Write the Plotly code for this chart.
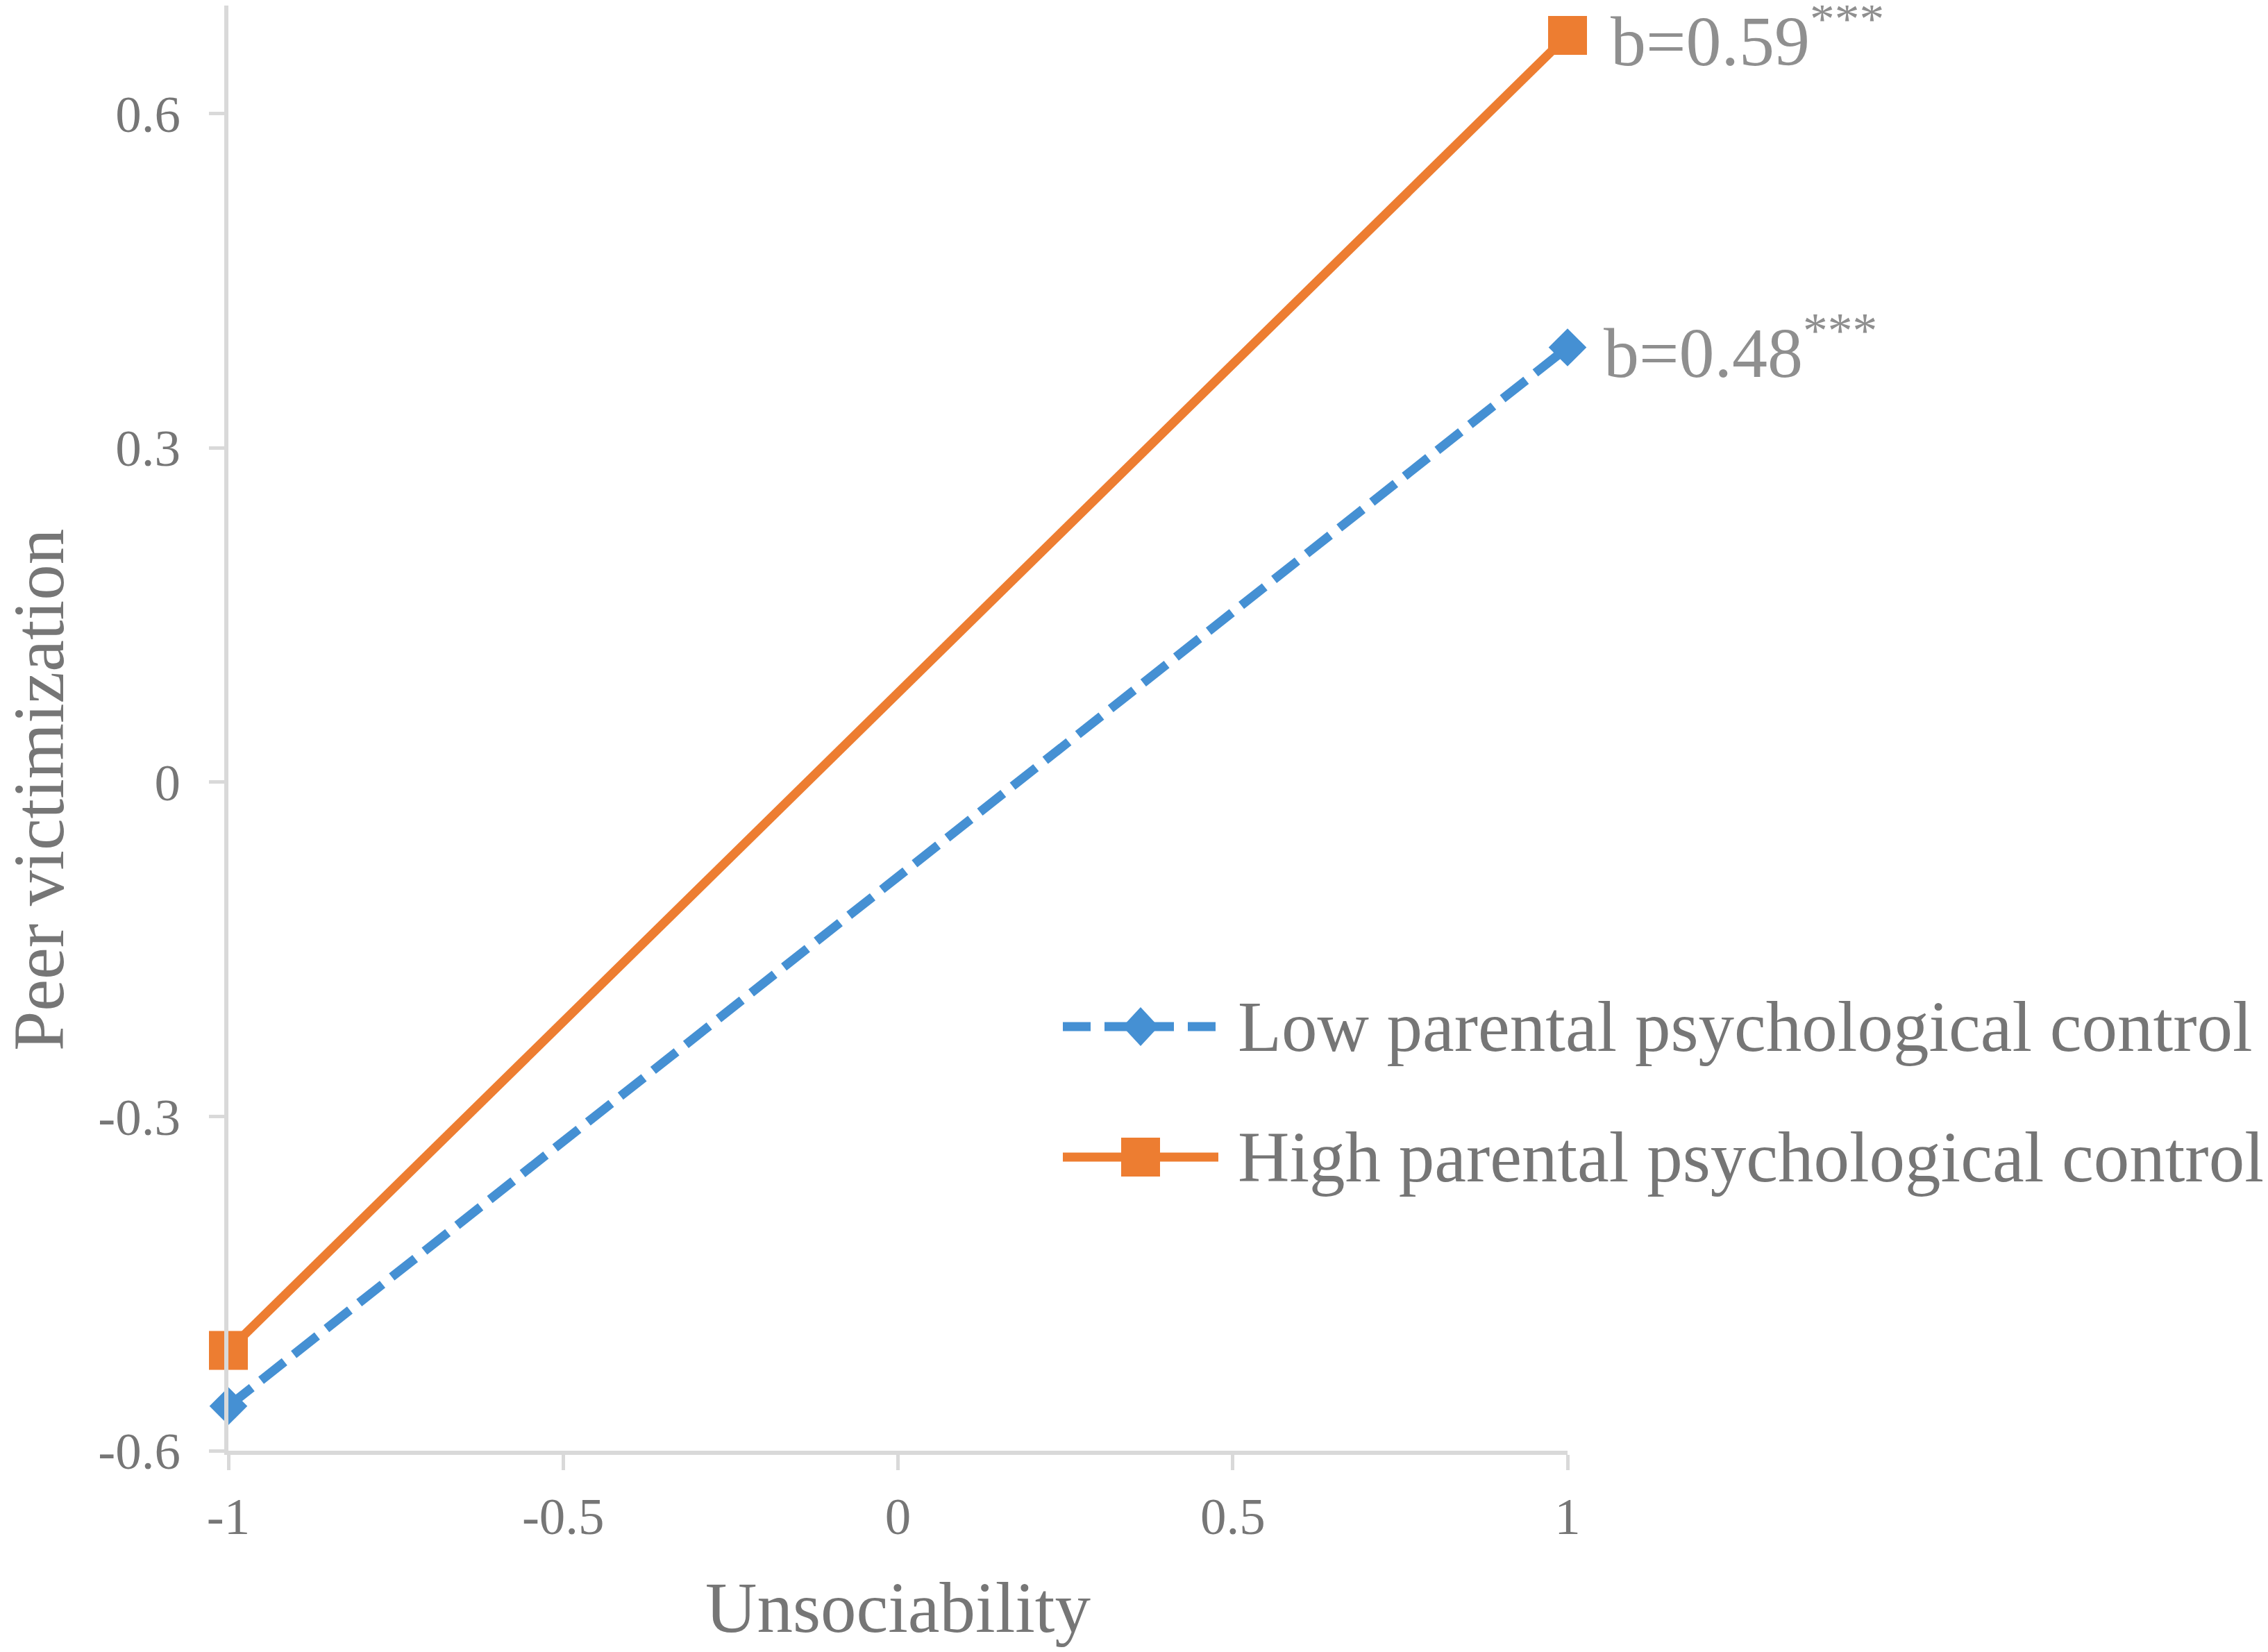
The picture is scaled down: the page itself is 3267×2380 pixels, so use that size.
import plotly.graph_objects as go

# ---- data ----
unsociability = [-1, 1]
low_control = [-0.56, 0.39]
high_control = [-0.51, 0.67]
series_names = ["Low parental psychological control", "High parental psychological control"]
slope_labels = ["b=0.48", "b=0.59"]
x_ticks = [-1, -0.5, 0, 0.5, 1]
x_tick_text = ["-1", "-0.5", "0", "0.5", "1"]
y_ticks = [-0.6, -0.3, 0, 0.3, 0.6]
y_tick_text = ["-0.6", "-0.3", "0", "0.3", "0.6"]

BLUE = "#4590D3"
ORANGE = "#ED7D31"
TXT = "#767676"
ANN = "#8F8F8F"
AXC = "#D9D9D9"
FONT = "Liberation Serif, Times New Roman, serif"

W, H = 3267, 2380
L, R, T, B = 321, 1017, 0, 298
pw = W - L - R
ph = H - T - B


def px_x(p):
    return (p - L) / pw


def px_y(p):
    return (H - B - p) / ph


fig = go.Figure()
fig.add_trace(go.Scatter(
    x=unsociability, y=low_control, mode="lines+markers", name=series_names[0],
    line=dict(color=BLUE, width=13, dash="43px,17px"),
    marker=dict(symbol="diamond", size=42, color=BLUE),
    cliponaxis=False, showlegend=False))
fig.add_trace(go.Scatter(
    x=unsociability, y=high_control, mode="lines+markers", name=series_names[1],
    line=dict(color=ORANGE, width=13),
    marker=dict(symbol="square", size=56, color=ORANGE),
    cliponaxis=False, showlegend=False))

# slope labels next to the right-hand points
for yv, lab, xs in [(low_control[-1], slope_labels[0], 50), (high_control[-1], slope_labels[1], 60)]:
    fig.add_annotation(x=unsociability[-1], y=yv, xref="x", yref="y",
                       text=lab + "<sup>***</sup>", showarrow=False,
                       xanchor="left", yanchor="middle", xshift=xs,
                       font=dict(family=FONT, size=102, color=ANN))

# custom legend (long line samples like the original)
leg_x0, leg_x1, leg_mid, leg_txt = px_x(1523), px_x(1747), px_x(1635), px_x(1773)
rows = [px_y(1471), px_y(1659)]

fig.add_shape(type="line", xref="paper", yref="paper", x0=leg_x0, x1=leg_x1,
              y0=rows[0], y1=rows[0], line=dict(color=BLUE, width=13, dash="40px,20px"))
fig.add_shape(type="path", xref="paper", yref="paper", xsizemode="pixel", ysizemode="pixel",
              xanchor=leg_mid, yanchor=rows[0],
              path="M0,-28 L26,0 L0,28 L-26,0 Z", fillcolor=BLUE, line=dict(width=0))
fig.add_shape(type="line", xref="paper", yref="paper", x0=leg_x0, x1=leg_x1,
              y0=rows[1], y1=rows[1], line=dict(color=ORANGE, width=13))
fig.add_shape(type="rect", xref="paper", yref="paper", xsizemode="pixel", ysizemode="pixel",
              xanchor=leg_mid, yanchor=rows[1], x0=-28, x1=28, y0=-28, y1=28,
              fillcolor=ORANGE, line=dict(width=0))
for yv, name in zip(rows, series_names):
    fig.add_annotation(x=leg_txt, y=yv, xref="paper", yref="paper", text=name,
                       showarrow=False, xanchor="left", yanchor="middle",
                       font=dict(family=FONT, size=103, color=TXT))

# y-axis title (placed like the original, slightly below the axis centre)
fig.add_annotation(x=px_x(48), y=px_y(1130), xref="paper", yref="paper",
                   text="Peer victimization", textangle=-90, showarrow=False,
                   xanchor="center", yanchor="middle",
                   font=dict(family=FONT, size=103, color=TXT))

axis_common = dict(showgrid=False, zeroline=False, showline=True, linecolor=AXC,
                   linewidth=6, ticks="outside", tickcolor=AXC, tickwidth=5,
                   ticklen=22, tickfont=dict(family=FONT, size=75, color=TXT),
                   automargin=False)

fig.update_xaxes(range=[-1, 1], tickvals=x_ticks, ticktext=x_tick_text,
                 title=dict(text="Unsociability", font=dict(family=FONT, size=103, color=TXT), standoff=56),
                 ticklabelstandoff=2, **axis_common)
fig.update_yaxes(range=[-0.6, 0.6968], tickvals=y_ticks, ticktext=y_tick_text,
                 ticklabelstandoff=26, **axis_common)

fig.update_layout(width=W, height=H, margin=dict(l=L, r=R, t=T, b=B),
                  paper_bgcolor="white", plot_bgcolor="white", showlegend=False,
                  font=dict(family=FONT, color=TXT))

fig.write_html("out.html")
